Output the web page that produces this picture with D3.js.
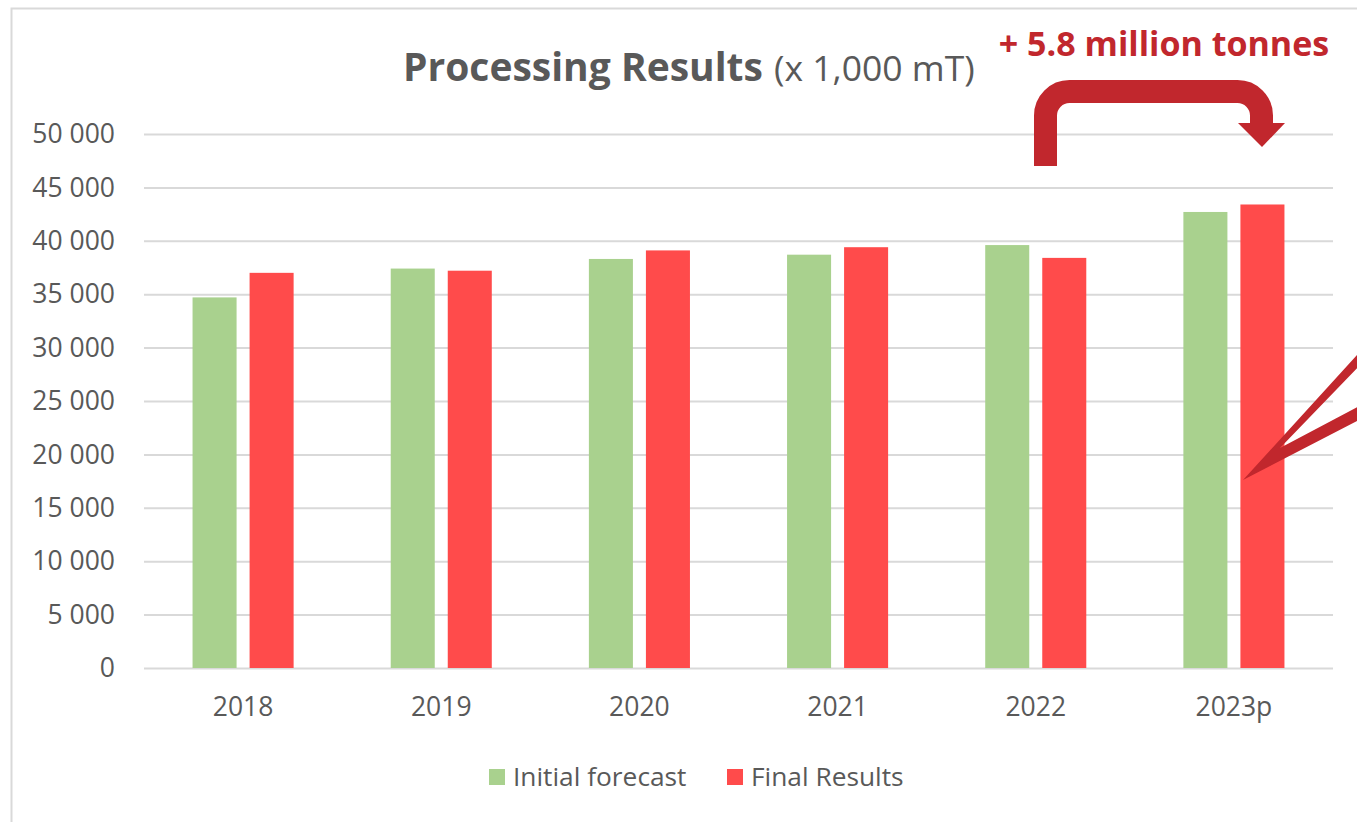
<!DOCTYPE html>
<html>
<head>
<meta charset="utf-8">
<script src="https://cdn.jsdelivr.net/npm/d3@7"></script>
<style>
  html, body { margin: 0; padding: 0; background: #ffffff; }
  svg { display: block; }
  text { font-family: "Open Sans", "DejaVu Sans", sans-serif; }
</style>
</head>
<body>
<svg id="chart" width="1357" height="822"></svg>
<script>
// ---- data ----
const categories = ["2018", "2019", "2020", "2021", "2022", "2023p"];
const seriesNames = ["Initial forecast", "Final Results"];
const initialForecast = [34700, 37400, 38300, 38700, 39600, 42700];
const finalResults = [37000, 37200, 39100, 39400, 38400, 43400];
const yTicks = [0, 5000, 10000, 15000, 20000, 25000, 30000, 35000, 40000, 45000, 50000];
const titleMain = "Processing Results";
const titleUnit = "(x 1,000 mT)";
const annotation = "+ 5.8 million tonnes";

// ---- styles ----
const colors = { "Initial forecast": "#A9D18E", "Final Results": "#FF4B4B" };
const textColor = "#595959";
const gridColor = "#D9D9D9";
const accent = "#C1272D";

const svg = d3.select("#chart");
const W = 1357, H = 822;
svg.append("rect").attr("width", W).attr("height", H).attr("fill", "#fff");

// outer frame
svg.append("rect")
  .attr("x", 11.5).attr("y", 8.5)
  .attr("width", W + 20).attr("height", H + 20)
  .attr("fill", "none").attr("stroke", "#D9D9D9").attr("stroke-width", 2);

const plot = { left: 144, right: 1333, top: 134, bottom: 668 };

const y = d3.scaleLinear().domain([0, 50000]).range([plot.bottom, plot.top]);
const x0 = d3.scaleBand().domain(categories)
  .range([plot.left, plot.right]).paddingInner(0.49).paddingOuter(0.245);
const x1 = d3.scaleBand().domain(seriesNames)
  .range([0, x0.bandwidth()]).paddingInner(0.228).paddingOuter(0);

const locale = d3.formatLocale({ decimal: ".", thousands: " ", grouping: [3], currency: ["", ""] });
const fmt = locale.format(",d");

// gridlines + y labels
const yAxis = d3.axisLeft(y).tickValues(yTicks).tickFormat(fmt)
  .tickSize(-(plot.right - plot.left)).tickPadding(29);
const gy = svg.append("g").attr("transform", `translate(${plot.left},0)`).call(yAxis);
gy.select(".domain").remove();
gy.selectAll(".tick line").attr("stroke", gridColor).attr("stroke-width", 2);
gy.selectAll(".tick text")
  .attr("fill", textColor).attr("font-size", 26.5)
  .attr("dy", "0.33em");

// bars
const data = categories.map((c, i) => ({ cat: c, values: [
  { key: seriesNames[0], value: initialForecast[i] },
  { key: seriesNames[1], value: finalResults[i] }
]}));

const groups = svg.append("g").selectAll("g").data(data).join("g")
  .attr("transform", d => `translate(${x0(d.cat)},0)`);
groups.selectAll("rect").data(d => d.values).join("rect")
  .attr("x", d => x1(d.key))
  .attr("width", x1.bandwidth())
  .attr("y", d => y(d.value))
  .attr("height", d => y(0) - y(d.value))
  .attr("fill", d => colors[d.key]);

// x axis labels
const xAxis = d3.axisBottom(x0).tickSize(0).tickPadding(29);
const gx = svg.append("g").attr("transform", `translate(0,${plot.bottom})`).call(xAxis);
gx.select(".domain").remove();
gx.selectAll(".tick text").attr("fill", textColor).attr("font-size", 26.5);

// title
const title = svg.append("text").attr("x", 403).attr("y", 81)
  .attr("text-anchor", "start").attr("fill", textColor);
title.append("tspan").attr("font-weight", 700).attr("font-size", 39).text(titleMain);
title.append("tspan").attr("font-size", 35.5).attr("dx", 11).text(titleUnit);

// legend
const legend = svg.append("g").attr("transform", "translate(489,769)");
const legendX = [0, 238];
seriesNames.forEach((s, i) => {
  const g = legend.append("g").attr("transform", `translate(${legendX[i]},0)`);
  g.append("rect").attr("width", 16).attr("height", 16).attr("fill", colors[s]);
  g.append("text").attr("x", 24).attr("y", 8).attr("dy", "0.36em")
    .attr("fill", textColor).attr("font-size", 26.3).text(s);
});

// annotation text
svg.append("text").attr("x", 1164).attr("y", 56)
  .attr("text-anchor", "middle").attr("fill", accent)
  .attr("font-weight", 700).attr("font-size", 34).text(annotation);

// bent arrow
svg.append("path")
  .attr("d", "M1045.5,166 V115.5 A24,24 0 0 1 1069.5,91.5 H1237.5 A24,24 0 0 1 1261.5,115.5 V124")
  .attr("fill", "none").attr("stroke", accent).attr("stroke-width", 23);
svg.append("path").attr("d", "M1238,123 L1285,123 L1262,147 Z").attr("fill", accent);

// callout pointer lines
svg.append("path")
  .attr("d", "M1243,480 L1362,349.5 L1362,363 L1280,448 L1362,404.5 L1362,418.5 Z")
  .attr("fill", accent);
</script>
</body>
</html>
